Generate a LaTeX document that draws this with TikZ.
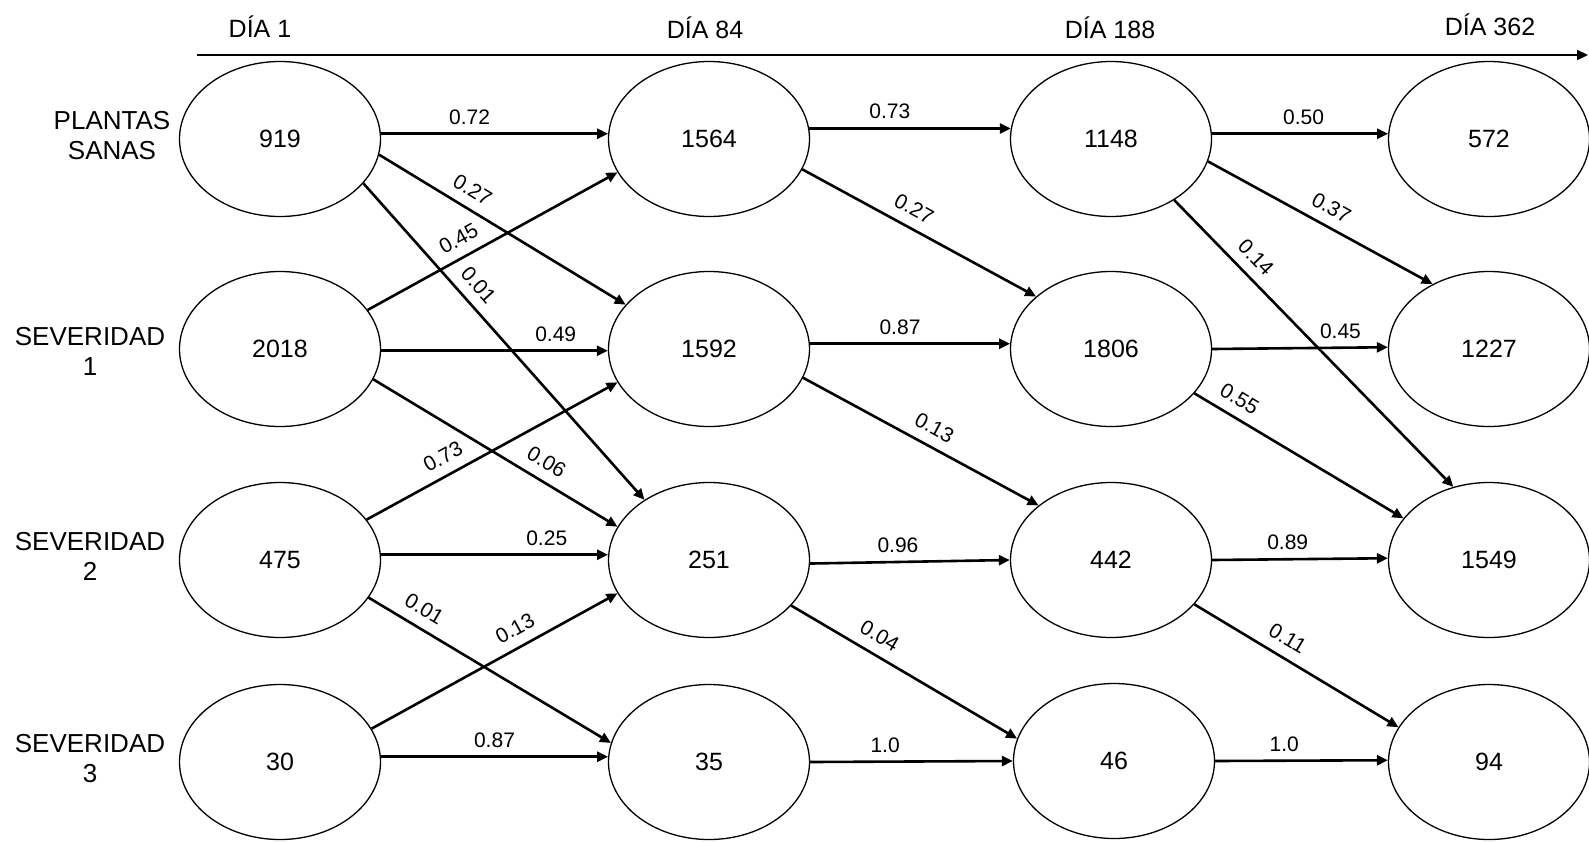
\documentclass[tikz,border=0pt]{standalone}
\usepackage{fontspec}
\setmainfont{Liberation Sans}
\usetikzlibrary{shapes.geometric,arrows.meta}
\begin{document}
\begin{tikzpicture}[x=0.5pt,y=-0.5pt,
  st/.style={ellipse,draw,line width=0.65pt,minimum width=100.5pt,minimum height=77.5pt,inner sep=0pt,font=\fontsize{12.5}{15}\selectfont},
  rowlbl/.style={align=center,font=\fontsize{13}{15}\selectfont},
  hdr/.style={font=\fontsize{12.5}{15}\selectfont},
  arr/.style={line width=1.3pt,-{Triangle[length=5.5pt,width=5pt]}},
  axisline/.style={line width=1.1pt,-{Triangle[length=5.5pt,width=5pt]}},
  lbl/.style={font=\fontsize{10.5}{12}\selectfont,inner sep=1.5pt},
  hl/.style={lbl,above=2.5pt},
  dl/.style={lbl,sloped,above=3.5pt}]
\useasboundingbox (0,0) rectangle (1589,841);

% headers and time axis
\node[hdr] (h1) at (260,27) {DÍA 1};
\node[hdr] (h2) at (705,28) {DÍA 84};
\node[hdr] (h3) at (1110,28) {DÍA 188};
\node[hdr] (h4) at (1490,25) {DÍA 362};
\coordinate (ax0) at (197,55);
\coordinate (ax1) at (1588,55);
\draw[axisline] (ax0) -- (ax1);

% row labels
\node[rowlbl] (r1) at (112,136) {PLANTAS\\SANAS};
\node[rowlbl] (r2) at (90,351) {SEVERIDAD\\1};
\node[rowlbl] (r3) at (90,556) {SEVERIDAD\\2};
\node[rowlbl] (r4) at (90,759) {SEVERIDAD\\3};

% states
\node[st] (a1) at (280,139) {919};
\node[st] (a2) at (280,349) {2018};
\node[st] (a3) at (280,560) {475};
\node[st] (a4) at (280,762) {30};
\node[st] (b1) at (709,139) {1564};
\node[st] (b2) at (709,349) {1592};
\node[st] (b3) at (709,560) {251};
\node[st] (b4) at (709,762) {35};
\node[st] (c1) at (1111,139) {1148};
\node[st] (c2) at (1111,349) {1806};
\node[st] (c3) at (1111,560) {442};
\node[st] (c4) at (1114,761) {46};
\node[st] (d1) at (1489,139) {572};
\node[st] (d2) at (1489,349) {1227};
\node[st] (d3) at (1489,560) {1549};
\node[st] (d4) at (1489,762) {94};

% day 1 -> day 84
\draw[arr] (a1.3) -- node[hl,pos=.39] {0.72} (b1.177);
\draw[arr] (a1.-9) -- node[dl,pos=.34] {0.27} (b2.152);
\draw[arr] (a1.-28.5) -- node[dl,pos=.36] {0.01} (b3.137.6);
\draw[arr] (a2.24.6) -- node[dl,pos=.40] {0.45} (b1.200);
\draw[arr] (a2.-1) -- node[hl,pos=.77] {0.49} (b2.181);
\draw[arr] (a2.-18) -- node[dl,pos=.67] {0.06} (b3.160);
\draw[arr] (a3.25) -- node[dl,pos=.34] {0.73} (b2.200);
\draw[arr] (a3.3) -- node[hl,pos=.73] {0.25} (b3.177);
\draw[arr] (a3.-23.6) -- node[dl,pos=.19] {0.01} (b4.169);
\draw[arr] (a4.20) -- node[dl,pos=.62] {0.13} (b3.200.8);
\draw[arr] (a4.3) -- node[hl,pos=.50] {0.87} (b4.177);

% day 84 -> day 188
\draw[arr] (b1.6) -- node[hl,pos=.40] {0.73} (c1.174);
\draw[arr] (b1.-18) -- node[dl,pos=.44] {0.27} (c2.145);
\draw[arr] (b2.3) -- node[hl,pos=.45] {0.87} (c2.177);
\draw[arr] (b2.-17.5) -- node[dl,pos=.52] {0.13} (c3.143);
\draw[arr] (b3.-2) -- node[hl,pos=.44] {0.96} (c3.180);
\draw[arr] (b3.-29.7) -- node[dl,pos=.35] {0.04} (c4.167.6);
\draw[arr] (b4.-0.5) -- node[hl,pos=.37] {1.0} (c4.180.5);

% day 188 -> day 362
\draw[arr] (c1.3) -- node[hl,pos=.52] {0.50} (d1.177);
\draw[arr] (c1.-13) -- node[dl,pos=.51] {0.37} (d2.131);
\draw[arr] (c1.-44) -- node[dl,pos=.245] {0.14} (d3.116);
\draw[arr] (c2.0.5) -- node[hl,pos=.73] {0.45} (d2.179.5);
\draw[arr] (c2.-28.6) -- node[dl,pos=.17] {0.55} (d3.154.5);
\draw[arr] (c3.0.5) -- node[hl,pos=.43] {0.89} (d3.179.5);
\draw[arr] (c3.-28.6) -- node[dl,pos=.41] {0.11} (d4.159.7);
\draw[arr] (c4.0.5) -- node[hl,pos=.40] {1.0} (d4.179.5);
\end{tikzpicture}
\end{document}
